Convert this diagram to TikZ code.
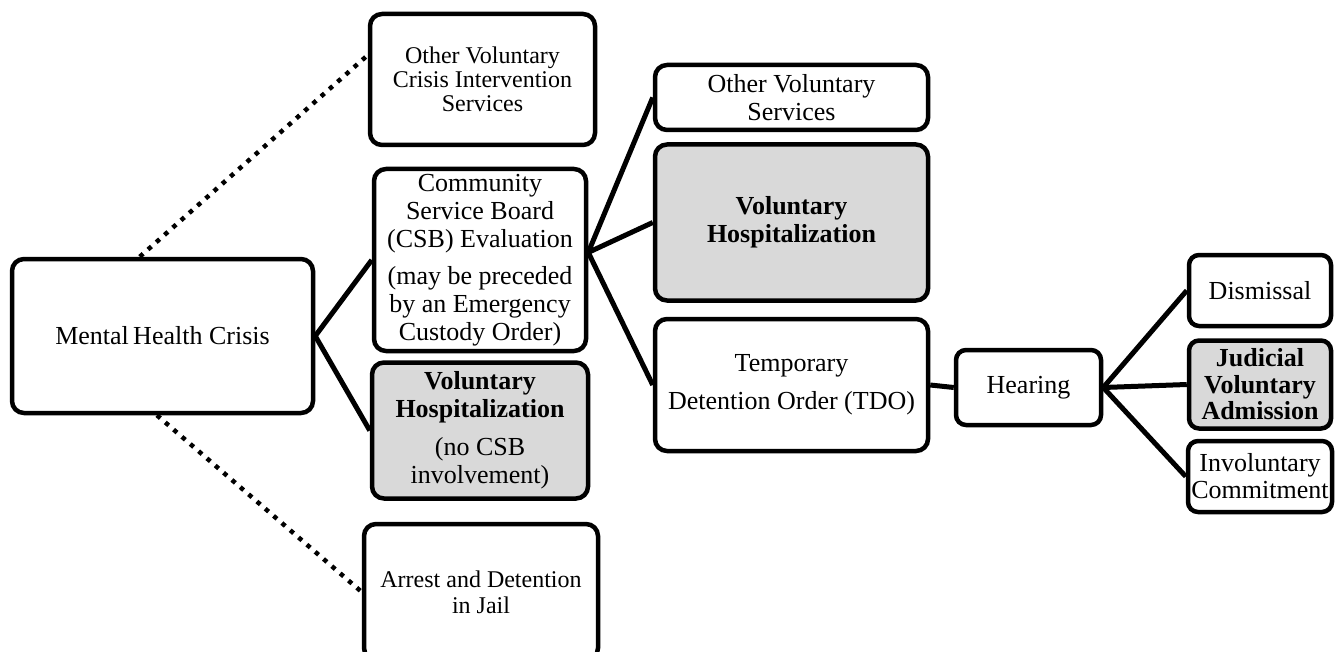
\documentclass[tikz,border=0pt]{standalone}
\usepackage{fontspec}
\setmainfont{Liberation Serif}
\usetikzlibrary{positioning}

\begin{document}
\begin{tikzpicture}[
    x=1pt, y=-1pt,
    font=\fontsize{26}{28}\selectfont,
    box/.style={draw, line width=4.5pt, rounded corners=12pt, align=center,
                inner sep=0pt, fill=white},
    hosp/.style={box, fill=gray!30, font=\fontsize{26}{28}\selectfont\bfseries},
    link/.style={line width=5pt},
    maybe/.style={line width=4.5pt, dash pattern=on 4.5pt off 6.5pt},
    ]
\useasboundingbox (0,0) rectangle (1337,652);

% first column
\node[box, minimum width=301pt, minimum height=154pt] (crisis) at (162.5,336)
     {Mental\,Health Crisis};
\node[box, minimum width=225pt, minimum height=131pt,
      font=\fontsize{24}{24}\selectfont] (othercrisis) at (482.5,79.5)
     {Other Voluntary\\Crisis Intervention\\Services};
\node[box, minimum width=212pt, minimum height=182pt] (csb) at (480,260)
     {Community\\Service Board\\(CSB) Evaluation\\[9pt]
      (may be preceded\\by an Emergency\\Custody Order)};
\node[hosp, minimum width=216pt, minimum height=136pt, below=7pt of csb] (selfhosp)
     {Voluntary\\Hospitalization\\[10pt]\mdseries (no CSB\\\mdseries involvement)};
\node[box, minimum width=234pt, minimum height=136pt,
      font=\fontsize{24}{26}\selectfont] (jail) at (481,592)
     {Arrest and Detention\\in Jail};

% after the evaluation
\node[box, minimum width=273pt, minimum height=65pt] (otherserv) at (791.5,97.5)
     {Other Voluntary\\Services};
\node[hosp, minimum width=273pt, minimum height=156pt, below=10pt of otherserv] (hosp)
     {Voluntary\\Hospitalization};
\node[box, minimum width=273pt, minimum height=132pt, below=14pt of hosp,
      font=\fontsize{26}{38}\selectfont] (tdo)
     {Temporary\\Detention Order (TDO)};
\node[box, minimum width=145pt, minimum height=75pt, rounded corners=10pt] (hearing)
     at (1028.5,387.5) {Hearing};

% outcomes
\node[box, minimum width=142pt, minimum height=71pt, rounded corners=10pt] (dismissal)
     at (1260,290.5) {Dismissal};
\node[hosp, minimum width=142pt, minimum height=88pt, rounded corners=10pt,
      font=\fontsize{26}{26.5}\selectfont\bfseries, below=10pt of dismissal] (judicial)
     {Judicial\\Voluntary\\Admission};
\node[box, minimum width=144pt, minimum height=71pt, rounded corners=10pt,
      font=\fontsize{26}{27}\selectfont, below=8pt of judicial] (commit)
     {Involuntary\\Commitment};

\draw[maybe] (crisis.106) -- (othercrisis.168);
\draw[maybe] (crisis.266) -- (jail.west);
\draw[link] (crisis.east) -- (csb.west);
\draw[link] (crisis.east) -- (selfhosp.west);
\draw[link] (csb.4) -- (otherserv.west);
\draw[link] (csb.4) -- (hosp.west);
\draw[link] (csb.4) -- (tdo.west);
\draw[link] (tdo.east) -- (hearing.west);
\draw[link] (hearing.east) -- (dismissal.west);
\draw[link] (hearing.east) -- (judicial.west);
\draw[link] (hearing.east) -- (commit.west);
\end{tikzpicture}
\end{document}
